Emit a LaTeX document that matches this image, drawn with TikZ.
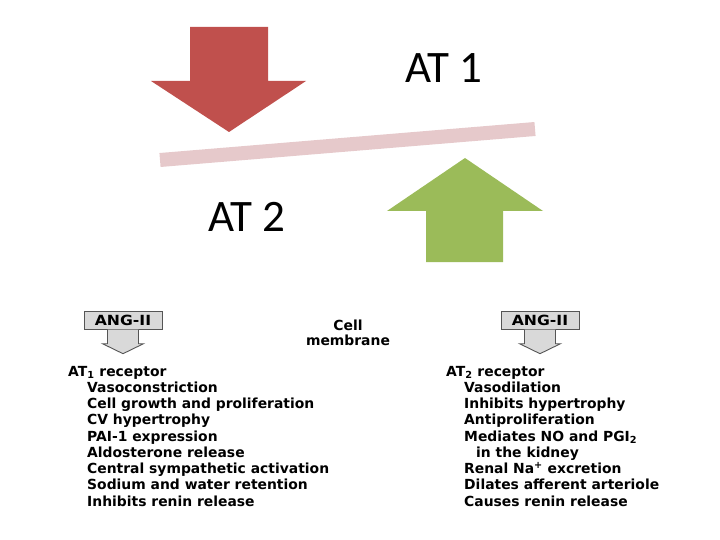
\documentclass[tikz,border=0pt]{standalone}
\usepackage{fontspec}
\usetikzlibrary{calc}
\setmainfont{DejaVu Sans}
\newfontfamily\calib{Carlito}
\newfontfamily\wideface[FakeStretch=1.12]{DejaVu Sans}
\definecolor{redarrow}{HTML}{C0504D}
\definecolor{greenarrow}{HTML}{9BBB59}
\definecolor{barpink}{HTML}{E6C9CB}
\definecolor{boxgray}{HTML}{D9D9D9}
\definecolor{edgegray}{HTML}{555555}
\tikzset{
  bigtext/.style={font=\calib\fontsize{45}{50}\selectfont, inner sep=0pt, anchor=base west},
  item/.style={font=\bfseries\fontsize{13.9}{16}\selectfont, inner sep=0pt, anchor=base west},
  angbox/.style={draw=edgegray, fill=boxgray, line width=0.9pt, minimum width=78pt, minimum height=17.5pt, inner sep=0pt, font=\wideface\bfseries\fontsize{14}{16}\selectfont},
  grayarrow/.style={draw=edgegray, fill=boxgray, line width=0.9pt, line join=miter}
}
\begin{document}
\begin{tikzpicture}[x=1pt,y=-1pt]
\useasboundingbox (0,0) rectangle (720,540);
% top part
\fill[redarrow] (190,27) -- (268,27) -- (268,81) -- (306,81) -- (229,132) -- (151,81) -- (190,81) -- cycle;
\draw[barpink, line width=14pt] (160,160) -- (535,129);
\fill[greenarrow] (465,158) -- (543,211) -- (503,211) -- (503,262) -- (426,262) -- (426,211) -- (387,211) -- cycle;
\node[bigtext] (at1) at (405,83) {AT 1};
\node[bigtext] (at2) at (208,232) {AT 2};
% left ANG-II
\node[angbox] (angL) at (123,320.5) {ANG-II};
\draw[grayarrow] ($(angL.south)+(-15.5,0)$) -- ($(angL.south)+(-15.5,14)$) -- ($(angL.south)+(-20.5,14)$) -- ($(angL.south)+(0,24)$) -- ($(angL.south)+(20.5,14)$) -- ($(angL.south)+(15.5,14)$) -- ($(angL.south)+(15.5,0)$);
% right ANG-II
\node[angbox] (angR) at (540,320.5) {ANG-II};
\draw[grayarrow] ($(angR.south)+(-15.5,0)$) -- ($(angR.south)+(-15.5,14)$) -- ($(angR.south)+(-20.5,14)$) -- ($(angR.south)+(0,24)$) -- ($(angR.south)+(20.5,14)$) -- ($(angR.south)+(15.5,14)$) -- ($(angR.south)+(15.5,0)$);
% cell membrane
\node[item, anchor=base] (cell) at (348,330) {Cell};
\node[item, anchor=base] (memb) at (348,345.5) {membrane};
% left list
\node[item] (l0) at (68,376) {AT\textsubscript{1} receptor};
\node[item] (l1) at (87,392.25) {Vasoconstriction};
\node[item] (l2) at (87,408.5) {Cell growth and proliferation};
\node[item] (l3) at (87,424.75) {CV hypertrophy};
\node[item] (l4) at (87,441) {PAI-1 expression};
\node[item] (l5) at (87,457.25) {Aldosterone release};
\node[item] (l6) at (87,473.5) {Central sympathetic activation};
\node[item] (l7) at (87,489.75) {Sodium and water retention};
\node[item] (l8) at (87,506) {Inhibits renin release};
% right list
\node[item] (r0) at (446,376) {AT\textsubscript{2} receptor};
\node[item] (r1) at (464,392.25) {Vasodilation};
\node[item] (r2) at (464,408.5) {Inhibits hypertrophy};
\node[item] (r3) at (464,424.75) {Antiproliferation};
\node[item] (r4) at (464,441) {Mediates NO and PGI\textsubscript{2}};
\node[item] (r5) at (476,457.25) {in the kidney};
\node[item] (r6) at (464,473.5) {Renal Na\textsuperscript{+} excretion};
\node[item] (r7) at (464,489.75) {Dilates afferent arteriole};
\node[item] (r8) at (464,506) {Causes renin release};
\end{tikzpicture}
\end{document}
